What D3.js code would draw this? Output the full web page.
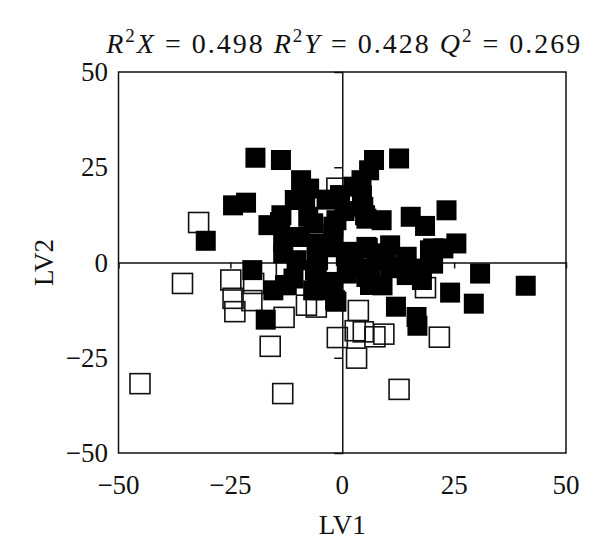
<!DOCTYPE html>
<html><head><meta charset="utf-8">
<script src="https://cdn.jsdelivr.net/npm/d3@7"></script>
<style>body{margin:0;background:#fff}text{font-family:"Liberation Serif","DejaVu Serif",serif;fill:#111}</style>
</head><body><svg id="c" width="600" height="550"></svg>
<script>
const xTicks = [-50, -25, 0, 25, 50];
const yTicks = [-50, -25, 0, 25, 50];
const xLabel = "LV1";
const yLabel = "LV2";
// open squares (LV1, LV2)
const openX = [-32.1,-35.7,-24.9,-24.4,-24.0,-20.2,-19.8,-45.2,-13.0,-16.1,-13.3,-8.0,-5.8,3.6,-1.1,3.2,2.9,4.7,7.3,9.3,21.7,12.7,18.6,-1.2,-12.5];
const openY = [10.5,-5.5,-4.6,-9.4,-12.9,-10.0,-5.5,-31.8,-14.4,-22.0,-34.4,-11.2,-11.7,-12.6,-19.7,-25.1,-17.9,-18.2,-19.5,-18.8,-19.6,-33.3,-6.6,19.5,-1.5];
// filled squares (LV1, LV2)
const fillX = [-19.4,-13.7,12.7,7.1,6.0,4.3,2.5,-0.5,-9.2,-7.4,-10.6,-24.4,-21.5,-30.5,4.7,5.4,8.8,15.3,18.5,23.3,25.5,22.6,-16.5,-13.6,-7.6,-2.0,-13.2,-9.5,-5.7,-5.4,1.0,5.4,10.7,14.4,19.6,20.3,17.4,10.7,5.4,1.0,-2.0,-5.7,6.2,-20.1,-15.4,-12.4,-10.9,-6.5,-1.3,30.8,41.0,24.1,29.4,12.0,16.6,16.8,-17.1,14.4,9.9,2.5,7.7,-10.2,-13.2,-1.3,-8.3,1.7,-5.7,9.0,
  -3.5,4.4,5.1,-6.5,-2.0,0.8,5.7,6.2,12.4,17.7,17.8,20.3,-12.8,-6.1,-5.0,-1.6,3.3,-13.9,-3.0,0.5];
const fillY = [27.5,26.9,27.3,26.9,24.2,21.6,19.9,17.7,21.6,19.4,16.4,15.0,15.7,5.7,14.6,11.5,11.1,12.0,9.6,13.7,5.0,3.7,9.8,12.4,12.0,9.4,5.4,6.7,5.0,0.6,2.8,4.1,4.5,1.5,3.2,-0.3,-2.9,-1.1,-3.8,-2.9,-5.1,-3.3,-5.9,-2.0,-7.3,-5.9,-4.2,-7.3,-10.3,-2.9,-6.1,-7.9,-10.8,-11.6,-14.3,-16.6,-15.0,-3.3,2.4,0.6,0.6,0.6,2.4,11.1,16.4,2.4,2.4,-6.0,
  16.5,17.6,12.4,10.3,7.7,1.7,3.8,-2.0,-1.5,-1.6,-4.6,3.7,-6.0,-2.0,-7.3,-9.9,-1.5,10.6,4.0,13.5];

const svg = d3.select("#c");
const L = 118.5, R = 566, T = 72, B = 453;
const x = d3.scaleLinear().domain([-50, 50]).range([L, R]);
const y = d3.scaleLinear().domain([-50, 50]).range([B, T]);
const S = 20;

// center axes with ticks
const gx = svg.append("g").attr("transform", `translate(0,${y(0)})`)
  .call(d3.axisBottom(x).tickValues([-25, 25]).tickSize(6).tickFormat(""));
const gy = svg.append("g").attr("transform", `translate(${x(0)},0)`)
  .call(d3.axisLeft(y).tickValues([-25, 25]).tickSize(8).tickFormat(""));
[gx, gy].forEach(g => { g.selectAll("path").attr("stroke", "#111").attr("stroke-width", 1.5); g.selectAll("line").attr("stroke", "#111").attr("stroke-width", 1.5); });

const open = openX.map((v, i) => ({x: v, y: openY[i]}));
const fill = fillX.map((v, i) => ({x: v, y: fillY[i]}));
svg.append("g").selectAll("rect").data(open).join("rect")
  .attr("x", d => x(d.x) - S/2).attr("y", d => y(d.y) - S/2)
  .attr("width", S).attr("height", S)
  .attr("fill", "none").attr("stroke", "#111").attr("stroke-width", 1.6);
svg.append("g").selectAll("rect").data(fill).join("rect")
  .attr("x", d => x(d.x) - S/2).attr("y", d => y(d.y) - S/2)
  .attr("width", S).attr("height", S)
  .attr("fill", "#000");

// frame
svg.append("rect").attr("x", L).attr("y", T).attr("width", R - L).attr("height", B - T)
  .attr("fill", "none").attr("stroke", "#111").attr("stroke-width", 1.5);

const fmt = v => v < 0 ? "\u2212" + Math.abs(v) : String(v);
svg.append("g").selectAll("text").data(xTicks).join("text")
  .attr("x", d => x(d)).attr("y", 494).attr("text-anchor", "middle")
  .attr("font-size", 27).text(fmt);
svg.append("g").selectAll("text").data(yTicks).join("text")
  .attr("x", 108).attr("y", d => y(d) + 9).attr("text-anchor", "end")
  .attr("font-size", 27).text(fmt);

svg.append("text").attr("x", x(0)).attr("y", 534).attr("text-anchor", "middle")
  .attr("font-size", 27).text(xLabel);
svg.append("text").attr("transform", `translate(53,${y(0)}) rotate(-90)`)
  .attr("text-anchor", "middle").attr("font-size", 27).text(yLabel);

// title
const t = svg.append("text").attr("x", x(0) + 2).attr("y", 53).attr("text-anchor", "middle")
  .attr("font-size", 28).attr("letter-spacing", 2);
const parts = [["R","i"],["2","s"],["X","i"],[" = 0.498 ",""],["R","i"],["2","s"],["Y","i"],[" = 0.428 ",""],["Q","i"],["2","s"],[" = 0.269",""]];
parts.forEach(([s, k], i) => {
  const ts = t.append("tspan").text(s);
  if (k === "i") ts.attr("font-style", "italic");
  if (k === "s") ts.attr("font-size", 19).attr("dy", -11);
  if (i > 0 && parts[i - 1][1] === "s") ts.attr("dy", 11);
});
t.style("white-space", "pre");
</script></body></html>
